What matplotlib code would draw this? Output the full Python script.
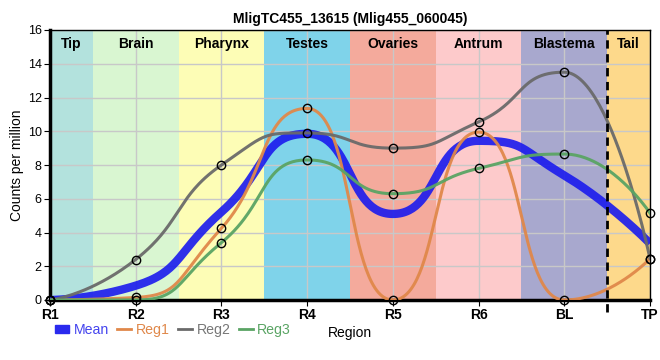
import numpy as np
import matplotlib
matplotlib.use('Agg')
from matplotlib import pyplot as plt
from matplotlib.lines import Line2D
from matplotlib.patches import Patch

plt.rcParams['font.family'] = ['Liberation Sans', 'DejaVu Sans']

# Dados
regions = ['R1', 'R2', 'R3', 'R4', 'R5', 'R6', 'BL', 'TP']
reg1 = [0.0, 0.15, 4.25, 11.35, 0.0, 9.95, 0.0, 2.45]
reg2 = [0.0, 2.4, 8.0, 9.9, 9.0, 10.55, 13.5, 2.45]
reg3 = [0.0, 0.0, 3.4, 8.3, 6.3, 7.8, 8.65, 5.15]
mean = list(np.mean([reg1, reg2, reg3], axis=0))

band_names = ['Tip', 'Brain', 'Pharynx', 'Testes', 'Ovaries', 'Antrum', 'Blastema', 'Tail']
band_edges = [0, 0.5, 1.5, 2.5, 3.5, 4.5, 5.5, 6.5, 7]
band_colors = ['#b3e2dd', '#d9f6d1', '#fdfdb6', '#7fd3ea', '#f4aa9c', '#fdcacb', '#a8a8ce', '#fdd98b']


def spline(xv, yv, smoothing=0.85, n=60):
    """ Curva 'spline' estilo Highcharts: controles a 1/(s+1) do espaço, sem extremos falsos """
    xv = np.asarray(xv, float)
    yv = np.asarray(yv, float)
    m = len(xv)
    left = [(xv[i], yv[i]) for i in range(m)]
    right = [(xv[i], yv[i]) for i in range(m)]
    den = smoothing + 1
    for i in range(1, m - 1):
        px, py = xv[i], yv[i]
        lx, ly = xv[i - 1], yv[i - 1]
        nx, ny = xv[i + 1], yv[i + 1]
        lcx, lcy = (smoothing * px + lx) / den, (smoothing * py + ly) / den
        rcx, rcy = (smoothing * px + nx) / den, (smoothing * py + ny) / den
        corr = (rcy - lcy) * (rcx - px) / (rcx - lcx) + py - rcy
        lcy += corr
        rcy += corr
        if lcy > ly and lcy > py:
            lcy = max(ly, py)
            rcy = 2 * py - lcy
        elif lcy < ly and lcy < py:
            lcy = min(ly, py)
            rcy = 2 * py - lcy
        if rcy > ny and rcy > py:
            rcy = max(ny, py)
            lcy = 2 * py - rcy
        elif rcy < ny and rcy < py:
            rcy = min(ny, py)
            lcy = 2 * py - rcy
        left[i] = (lcx, lcy)
        right[i] = (rcx, rcy)
    t = np.linspace(0, 1, n)[1:, None]
    out = [np.array([xv[0], yv[0]])]
    for i in range(m - 1):
        p0 = np.array([xv[i], yv[i]])
        c1 = np.array(right[i])
        c2 = np.array(left[i + 1])
        p1 = np.array([xv[i + 1], yv[i + 1]])
        seg = (1 - t) ** 3 * p0 + 3 * (1 - t) ** 2 * t * c1 + 3 * (1 - t) * t ** 2 * c2 + t ** 3 * p1
        out.extend(seg)
    out = np.array(out)
    return out[:, 0], out[:, 1]


fig = plt.figure(figsize=(6.6, 3.6), dpi=100)
ax = fig.add_axes([50 / 660, 60 / 360, 600 / 660, 270 / 360])

# Faixas das regioes
for i, name in enumerate(band_names):
    ax.axvspan(band_edges[i], band_edges[i + 1], color=band_colors[i], lw=0, zorder=0)
    ax.text((band_edges[i] + band_edges[i + 1]) / 2, 15.6, name, ha='center', va='top',
            fontsize=10, fontweight='bold', zorder=5)

ax.grid(True, color='#c8c8c8', lw=1, zorder=1)
ax.set_axisbelow(True)

x = np.arange(len(regions))
xs, ys = spline(x, mean)
ax.plot(xs, ys, color='#1a1aee', lw=6, alpha=0.9, zorder=3, solid_capstyle='butt')
series = [(reg1, '#e0884a'), (reg2, '#6a6a6a'), (reg3, '#5aa464')]
for vals, col in series:
    xs, ys = spline(x, vals)
    ax.plot(xs, ys, color=col, lw=2.2, alpha=0.95, zorder=4)
for vals, col in series:
    ax.plot(x, vals, 'o', ms=6, mfc='none', mec='black', mew=1, zorder=6, clip_on=False)

ax.axvline(6.5, ymin=-0.045, ymax=1, color='black', lw=2, ls=(0, (3, 2)), zorder=7, clip_on=False)

ax.set_xlim(0, 7)
ax.set_ylim(0, 16)
ax.set_xticks(x, regions)
ax.set_yticks(np.arange(0, 17, 2))
ax.tick_params(axis='x', labelsize=10, length=4, pad=2)
ax.tick_params(axis='y', labelsize=9, length=4, pad=2)
for lab in ax.get_xticklabels():
    lab.set_fontweight('bold')
ax.set_ylabel('Counts per million', fontsize=10, labelpad=3)
ax.set_xlabel('Region', fontsize=10, labelpad=3)
for side in ['left', 'bottom']:
    ax.spines[side].set_linewidth(2.5)
for side in ['top', 'right']:
    ax.spines[side].set_linewidth(1)

ax.set_title('MligTC455_13615 (Mlig455_060045)', fontsize=10, fontweight='bold', pad=5)

# Legenda
handles = [Patch(color='#2a2aee', label='Mean'),
           Line2D([], [], color='#e0884a', lw=2, label='Reg1'),
           Line2D([], [], color='#6a6a6a', lw=2, label='Reg2'),
           Line2D([], [], color='#5aa464', lw=2, label='Reg3')]
leg = fig.legend(handles=handles, loc='center left', bbox_to_anchor=(55 / 660, 30 / 360), ncols=4,
                 frameon=False, fontsize=10.2, handlelength=1.0, handleheight=0.5, handletextpad=0.3,
                 columnspacing=0.6, borderpad=0, borderaxespad=0)
for txt, col in zip(leg.get_texts(), ['#4444ee', '#e0884a', '#777777', '#5aa464']):
    txt.set_color(col)

plt.savefig('out.png', dpi=100)
